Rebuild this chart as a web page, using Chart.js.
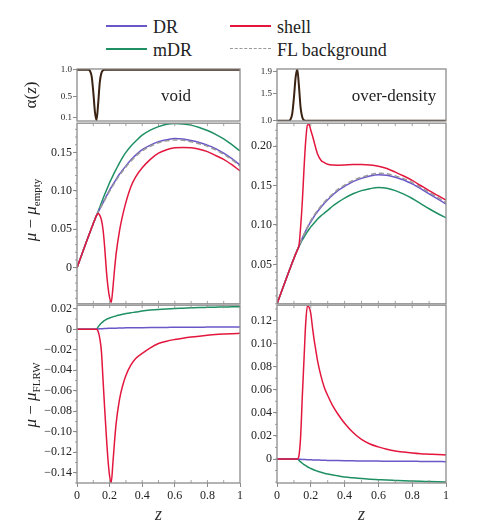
<!DOCTYPE html>
<html>
<head>
<meta charset="utf-8">
<script src="https://cdn.jsdelivr.net/npm/chart.js@4.4.1/dist/chart.umd.min.js"></script>
<style>
body { margin: 0; background: #fff; width: 485px; height: 529px; position: relative; overflow: hidden;
       font-family: "Liberation Serif", "DejaVu Serif", serif; color: #222; }
canvas { position: absolute; }
.txt { position: absolute; white-space: nowrap; font-size: 17px; line-height: 1; }
.rot { transform: translate(-50%, -50%) rotate(-90deg); }
.mid { transform: translate(-50%, -50%); }
.key { position: absolute; height: 0; }
sub { font-size: 11px; }
</style>
</head>
<body>
<script>
// ---- data ----
const seriesNames = ['DR', 'shell', 'mDR', 'FL background'];
const seriesColors = ['#6a58c8', '#e3173e', '#1f9063', '#9a9a9a'];

const zGrid = [0, 0.03, 0.06, 0.09, 0.1, 0.11, 0.12, 0.13, 0.14, 0.15, 0.16, 0.17, 0.18, 0.19, 0.2, 0.21, 0.22, 0.23, 0.24,
  0.26, 0.28, 0.3, 0.33, 0.36, 0.4, 0.45, 0.5, 0.55, 0.6, 0.65, 0.7, 0.75, 0.8, 0.85, 0.9, 0.95, 1.0];

// void, mu - mu_empty
const voidDR = [0, .0175, .035, .052, .0575, .063, .068, .0725, .0765, .0805, .0845, .0885, .093, .097, .101, .1045, .108, .1115, .115,
  .1215, .127, .1325, .140, .1465, .1535, .1595, .164, .1665, .168, .1675, .1655, .163, .1595, .155, .149, .142, .1335];
const voidShell = [0, .0175, .035, .052, .0575, .063, .068, .0705, .068, .062, .049, .026, -.003, -.025, -.039, -.045, -.027, -.003, .018,
  .047, .068, .085, .105, .118, .130, .141, .149, .1535, .156, .1565, .156, .154, .151, .146, .141, .134, .126];
const voidMDR = [0, .0175, .035, .052, .0575, .063, .068, .0735, .079, .0845, .09, .0955, .1005, .1055, .1105, .115, .1195, .124, .128,
  .136, .1435, .150, .158, .1645, .1725, .179, .1835, .1865, .1875, .187, .1855, .1825, .1785, .1735, .1675, .160, .152];
const voidFL = [0, .0175, .035, .052, .0575, .063, .068, .0725, .0765, .0805, .0845, .088, .092, .0958, .0995, .103, .1065, .11, .1135,
  .12, .1255, .131, .1385, .145, .152, .158, .1625, .165, .1662, .1658, .1638, .1613, .1578, .1533, .1474, .1405, .132];

// void, mu - mu_FLRW
const voidDRres = [0, 0, 0, 0, 0, 0, 0, .0003, .0005, .0006, .0007, .0008, .0009, .001, .001, .0011, .0011, .0012, .0012,
  .0013, .0014, .0015, .0016, .0016, .0017, .0018, .0019, .0019, .002, .002, .0021, .0021, .0022, .0022, .0022, .0023, .0023];
const voidShellRes = [0, 0, 0, 0, 0, 0, 0, -.002, -.009, -.022, -.05, -.078, -.104, -.127, -.143, -.1495, -.131, -.110, -.092,
  -.069, -.055, -.045, -.035, -.0285, -.0235, -.018, -.0138, -.0115, -.0099, -.0086, -.0075, -.0066, -.0058, -.0051, -.0046, -.0042, -.0039];
const voidMDRres = [0, 0, 0, 0, 0, 0, 0, .0025, .0045, .0062, .0076, .0088, .0098, .0105, .0111, .0117, .0122, .0127, .0132,
  .014, .0148, .0154, .0162, .0169, .0179, .0188, .0195, .02, .0204, .0207, .021, .0213, .0215, .0217, .0219, .022, .0222];

// over-density, mu - mu_empty
const overDR = [0, .0175, .035, .052, .0575, .063, .068, .073, .0785, .0835, .088, .0925, .0965, .1005, .104, .1075, .111, .114, .117,
  .1225, .1275, .132, .138, .1435, .149, .155, .159, .162, .1635, .163, .1605, .157, .152, .146, .1395, .133, .1265];
const overShell = [0, .0175, .035, .052, .0575, .063, .068, .074, .098, .13, .172, .207, .2265, .2275, .22, .213, .205, .197, .19,
  .182, .179, .177, .176, .1758, .176, .1765, .1765, .176, .1745, .1715, .167, .162, .1565, .15, .1435, .1375, .1315];
const overMDR = [0, .0175, .035, .052, .0575, .063, .068, .073, .077, .081, .0845, .088, .0915, .0945, .0975, .1, .1025, .105, .1075,
  .1115, .115, .1185, .124, .1285, .134, .1395, .1435, .146, .1475, .1465, .1435, .139, .1335, .127, .1205, .1145, .109];
const overFL = [0, .0175, .035, .052, .0575, .063, .068, .073, .0785, .0835, .088, .093, .097, .1015, .1055, .109, .1125, .1155, .1185,
  .124, .129, .1335, .1395, .145, .1505, .1565, .1605, .1637, .1655, .1648, .1622, .1587, .1537, .1477, .1413, .1348, .1283];

// over-density, mu - mu_FLRW
const overDRres = [0, 0, 0, 0, 0, 0, 0, -.0002, -.0003, -.0004, -.0005, -.0005, -.0006, -.0007, -.0007, -.0008, -.0008, -.0009, -.0009,
  -.001, -.0011, -.0012, -.0013, -.0014, -.0015, -.0016, -.0017, -.0018, -.0018, -.0019, -.0019, -.002, -.002, -.0021, -.0021, -.0022, -.0023];
const overShellRes = [0, 0, 0, 0, 0, 0, 0, .003, .02, .055, .087, .118, .1325, .1315, .126, .114, .103, .094, .085,
  .072, .062, .055, .046, .039, .031, .023, .017, .013, .0105, .0085, .007, .006, .0052, .0046, .0042, .0038, .0035];
const overMDRres = [0, 0, 0, 0, 0, 0, 0, -.0012, -.0025, -.0037, -.0048, -.0058, -.0067, -.0075, -.0082, -.0089, -.0095, -.0101, -.0106,
  -.0115, -.0123, -.013, -.0139, -.0146, -.0155, -.0163, -.017, -.0175, -.0179, -.0183, -.0186, -.0189, -.0191, -.0193, -.0195, -.0197, -.0199];

// alpha(z)
const alphaZ = [0, 0.05, 0.07, 0.08, 0.09, 0.1, 0.11, 0.12, 0.13, 0.14, 0.15, 0.16, 0.17, 0.19, 0.4, 0.7, 1.0];
const alphaVoid = [1, 1, 1, 0.975, 0.875, 0.58, 0.21, 0.055, 0.37, 0.77, 0.94, 0.99, 1, 1, 1, 1, 1];
const alphaOver = [1, 1, 1, 1.025, 1.125, 1.42, 1.79, 1.945, 1.63, 1.23, 1.06, 1.01, 1, 1, 1, 1, 1];

// tick labels
const xTicks = [0, 0.2, 0.4, 0.6, 0.8, 1];
const xMinor = [0.1, 0.2, 0.3, 0.4, 0.5, 0.6, 0.7, 0.8, 0.9];
const alphaVoidTicks = [0.1, 0.5, 1.0];
const alphaOverTicks = [1.0, 1.5, 1.9];
const voidMidTicks = [0, 0.05, 0.10, 0.15];
const overMidTicks = [0.05, 0.10, 0.15, 0.20];
const voidLowTicks = [0.02, 0, -0.02, -0.04, -0.06, -0.08, -0.10, -0.12, -0.14];
const overLowTicks = [0, 0.02, 0.04, 0.06, 0.08, 0.10, 0.12];

// ---- layout ----
const FONT = '"Liberation Serif", "DejaVu Serif", serif';
Chart.defaults.font.family = FONT;
const YW = 40, PAD = 8, PADR = 6, XH = 46;
const ALPHA_COL = '#3b2314';

function fmt(dec) {
  return v => {
    if (Math.abs(v) < 1e-9) return '0';
    const s = Math.abs(v).toFixed(dec);
    return (v < 0 ? '\u2212' : '') + s;
  };
}

const framePlugin = {
  id: 'frame',
  afterDatasetsDraw(chart, args, o) {
    const a = chart.chartArea, c = chart.ctx;
    const xs = chart.scales.x, ys = chart.scales.y;
    c.save();
    c.strokeStyle = '#8c8c8c';
    c.lineWidth = 0.8;
    if (o.minorX) {
      xMinor.forEach(v => {
        const px = xs.getPixelForValue(v);
        c.beginPath();
        c.moveTo(px, a.top); c.lineTo(px, a.top + 3);
        c.moveTo(px, a.bottom); c.lineTo(px, a.bottom - 3);
        c.stroke();
      });
    }
    if (o.minorY) {
      for (let v = Math.ceil(ys.min / o.minorY) * o.minorY; v <= ys.max; v += o.minorY) {
        const py = ys.getPixelForValue(v);
        c.beginPath(); c.moveTo(a.left, py); c.lineTo(a.left - 2, py); c.stroke();
      }
    }
    c.lineWidth = 1.3;
    c.strokeRect(a.left, a.top, a.right - a.left, a.bottom - a.top);
    c.restore();
  }
};

function makePanel(p) {
  const cv = document.createElement('canvas');
  cv.width = YW + p.w + PADR;
  cv.height = PAD + p.h + (p.xAxis ? XH : PAD);
  cv.style.left = (p.x - YW) + 'px';
  cv.style.top = (p.y - PAD) + 'px';
  document.body.appendChild(cv);
  new Chart(cv, {
    type: 'line',
    data: {
      datasets: p.series.map(s => ({
        data: p.zs.map((z, i) => ({ x: z, y: s.values[i] })),
        borderColor: s.color,
        borderWidth: s.width || 1.5,
        borderDash: s.dash || [],
        pointRadius: 0,
        cubicInterpolationMode: 'monotone',
        fill: false
      }))
    },
    options: {
      responsive: false,
      animation: false,
      events: [],
      layout: { padding: { top: PAD, right: PADR, bottom: p.xAxis ? 0 : PAD, left: 0 } },
      plugins: { legend: { display: false }, tooltip: { enabled: false }, frame: { minorX: p.minorX, minorY: p.minorY } },
      scales: {
        x: {
          type: 'linear', min: 0, max: 1, display: !!p.xAxis,
          afterFit: s => { if (p.xAxis) s.height = XH; },
          afterBuildTicks: s => { s.ticks = xTicks.map(v => ({ value: v })); },
          ticks: { callback: v => String(v), font: { size: 12 }, color: '#222', padding: 2, maxRotation: 0, autoSkip: false },
          grid: { drawOnChartArea: false, tickLength: 4, color: '#8c8c8c' },
          border: { display: false },
          title: { display: true, text: 'z', color: '#333', font: { size: 18, style: 'italic' }, padding: { top: 0, bottom: 3 } }
        },
        y: {
          type: 'linear', min: p.yMin, max: p.yMax,
          afterFit: s => { s.width = YW; },
          afterBuildTicks: s => { s.ticks = p.yTicks.map(v => ({ value: v })); },
          ticks: { callback: fmt(p.dec), font: { size: p.tickSize || 12 }, color: '#222', padding: 1, autoSkip: false },
          grid: { drawOnChartArea: false, tickLength: 4, color: '#8c8c8c' },
          border: { display: false }
        }
      }
    },
    plugins: [framePlugin]
  });
}

function four(shell, fl, dr, mdr) {
  const list = [{ values: shell, color: seriesColors[1] }];
  if (fl) list.push({ values: fl, color: seriesColors[3], dash: [5, 3], width: 1.5 });
  list.push({ values: dr, color: seriesColors[0] });
  list.push({ values: mdr, color: seriesColors[2] });
  return list;
}

// top: alpha(z)
makePanel({ x: 77, y: 69, w: 163, h: 52, zs: alphaZ, yMin: 0.037, yMax: 1.013, yTicks: alphaVoidTicks, dec: 1, tickSize: 9,
  series: [{ values: alphaVoid, color: ALPHA_COL, width: 2 }] });
makePanel({ x: 277, y: 69, w: 169, h: 52, zs: alphaZ, yMin: 0.995, yMax: 1.95, yTicks: alphaOverTicks, dec: 1, tickSize: 9,
  series: [{ values: alphaOver, color: ALPHA_COL, width: 2 }] });
// middle: mu - mu_empty
makePanel({ x: 77, y: 123, w: 163, h: 181, zs: zGrid, yMin: -0.047, yMax: 0.188, yTicks: voidMidTicks, dec: 2, minorX: true, minorY: 0.01,
  series: four(voidShell, voidFL, voidDR, voidMDR) });
makePanel({ x: 277, y: 123, w: 169, h: 181, zs: zGrid, yMin: 0.0, yMax: 0.229, yTicks: overMidTicks, dec: 2, minorX: true, minorY: 0.01,
  series: four(overShell, overFL, overDR, overMDR) });
// bottom: mu - mu_FLRW
makePanel({ x: 77, y: 305, w: 163, h: 178, zs: zGrid, yMin: -0.150, yMax: 0.0236, yTicks: voidLowTicks, dec: 2, minorX: true, minorY: 0.01,
  xAxis: true, series: four(voidShellRes, null, voidDRres, voidMDRres) });
makePanel({ x: 277, y: 305, w: 169, h: 178, zs: zGrid, yMin: -0.0208, yMax: 0.1333, yTicks: overLowTicks, dec: 2, minorX: true, minorY: 0.01,
  xAxis: true, series: four(overShellRes, null, overDRres, overMDRres) });

// ---- text: legend, panel names, axis labels ----
function addText(html, x, y, cls, extra) {
  const d = document.createElement('div');
  d.className = 'txt ' + cls;
  d.innerHTML = html;
  d.style.left = x + 'px';
  d.style.top = y + 'px';
  if (extra) Object.assign(d.style, extra);
  document.body.appendChild(d);
  return d;
}
const keyPos = [[106, 26], [230, 26], [106, 49], [230, 49]];
seriesNames.forEach((name, i) => {
  const [x, y] = keyPos[i];
  const k = document.createElement('div');
  k.className = 'key';
  Object.assign(k.style, { left: x + 'px', top: (y - 1) + 'px', width: '41px',
    borderTop: (i === 3 ? '1.5px dashed ' : '2px solid ') + seriesColors[i] });
  document.body.appendChild(k);
  addText(name, x + 47, y - 8, '', { fontSize: '18px' });
});
addText('void', 176, 95, 'mid');
addText('over-density', 394, 95, 'mid');
addText('\u03b1(<i>z</i>)', 30, 95, 'rot');
addText('<i>\u03bc</i> \u2212 <i>\u03bc</i><sub>empty</sub>', 32, 210, 'rot');
addText('<i>\u03bc</i> \u2212 <i>\u03bc</i><sub>FLRW</sub>', 32, 395, 'rot');
</script>
</body>
</html>
